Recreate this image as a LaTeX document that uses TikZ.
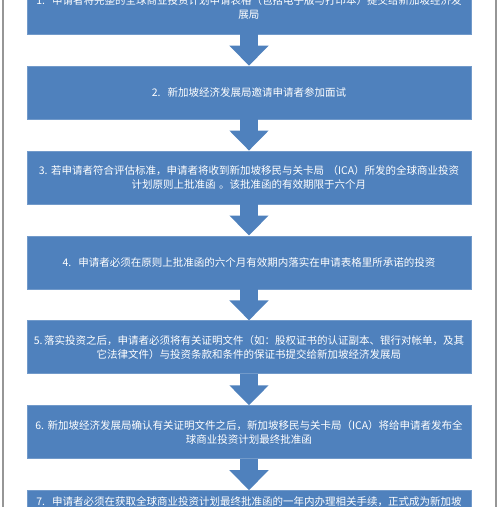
\documentclass[tikz,border=0pt]{standalone}
\usepackage{fontspec}
\newfontfamily\cjk{Noto Sans CJK SC}
\usepackage{xcolor}
\usetikzlibrary{arrows.meta, positioning}
\definecolor{stepblue}{RGB}{79,129,189}
\definecolor{framegray}{RGB}{150,150,150}

\begin{document}
\begin{tikzpicture}[x=1pt, y=1pt, node distance=31.5pt,
    stepbox/.style={fill=stepblue, draw=stepblue!80!white, minimum width=444pt, minimum height=53pt,
        text width=440pt, align=center, inner sep=0pt, text=white, font=\cjk\fontsize{10.5}{14}\selectfont},
    flow/.style={draw=stepblue, line width=18pt, -{Triangle[width=38pt, length=20pt]}}]
    \useasboundingbox (0,0) rectangle (499,-507);
    \clip (0,0) rectangle (499,-507);
    % frame
    \draw[framegray, line width=2pt] (3,0) -- (3,-507);
    \draw[framegray, line width=2pt] (496,0) -- (496,-507);
    % steps
    \node[stepbox] (s1) at (249,-7.5) {1.\ \ 申请者将完整的全球商业投资计划申请表格（包括电子版与打印本）提交给新加坡经济发\\展局};
    \node[stepbox, below=of s1] (s2) {2.\ \ 新加坡经济发展局邀请申请者参加面试};
    \node[stepbox, below=of s2] (s3) {3.\ 若申请者符合评估标准，申请者将收到新加坡移民与关卡局 （ICA）所发的全球商业投资\\计划原则上批准函 。该批准函的有效期限于六个月};
    \node[stepbox, below=of s3] (s4) {4.\ \ 申请者必须在原则上批准函的六个月有效期内落实在申请表格里所承诺的投资};
    \node[stepbox, below=of s4] (s5) {5.\,落实投资之后，申请者必须将有关证明文件（如：股权证书的认证副本、银行对帐单，及其\\它法律文件）与投资条款和条件的保证书提交给新加坡经济发展局};
    \node[stepbox, below=of s5] (s6) {6.\ 新加坡经济发展局确认有关证明文件之后，新加坡移民与关卡局（ICA）将给申请者发布全\\球商业投资计划最终批准函};
    \node[stepbox, below=of s6, minimum height=0pt, inner ysep=6pt] (s7) {7.\ \ 申请者必须在获取全球商业投资计划最终批准函的一年内办理相关手续，正式成为新加坡};
    % arrows
    \foreach \a/\b in {s1/s2, s2/s3, s3/s4, s4/s5, s5/s6, s6/s7}
        \draw[flow] (\a.south) -- (\b.north);
\end{tikzpicture}
\end{document}
